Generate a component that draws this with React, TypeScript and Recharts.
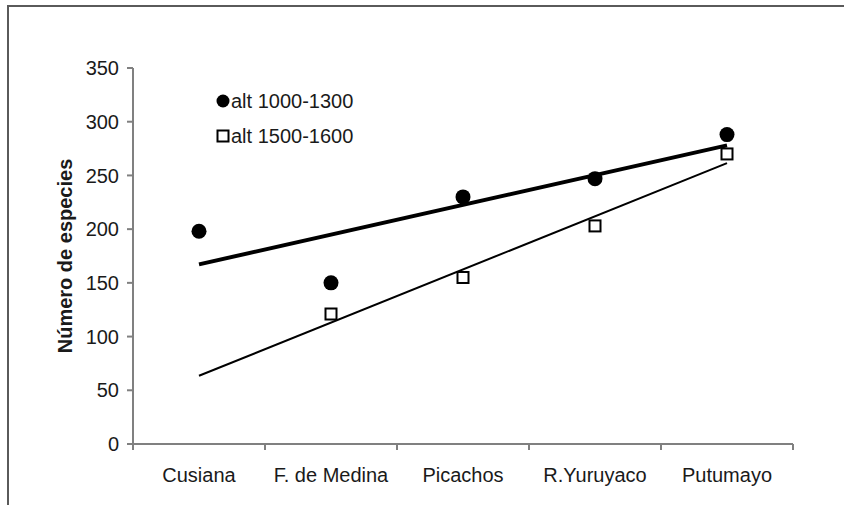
import React from 'react';
import { ComposedChart, Line, Scatter, XAxis, YAxis, Legend } from 'recharts';

// Species counts per site, two altitude bands
const sites = ['Cusiana', 'F. de Medina', 'Picachos', 'R.Yuruyaco', 'Putumayo'];
const alt1000to1300: (number | null)[] = [198, 150, 230, 247, 288];
const alt1500to1600: (number | null)[] = [null, 121, 155, 203, 270];
const seriesNames = ['alt 1000-1300', 'alt 1500-1600'];
const yTicks = [0, 50, 100, 150, 200, 250, 300, 350];
const yTitle = 'Número de especies';

const FONT = '"Liberation Sans", Arial, Helvetica, sans-serif';
const TEXT = '#1a1a1a';
const AXIS = '#808080';

// Each site sits in the middle of its slot on a 0..n axis; slot edges carry the tick marks.
const slotCenter = (i: number) => i + 0.5;
const xTicks: number[] = [];
sites.forEach((_, i) => {
  xTicks.push(i, slotCenter(i));
});
xTicks.push(sites.length);

type Pt = { x: number; y: number };

const toPoints = (values: (number | null)[]): Pt[] =>
  values
    .map((v, i) => (v == null ? null : { x: slotCenter(i), y: v }))
    .filter((p): p is Pt => p !== null);

// Least-squares trend line spanning the first to the last site
const linearTrend = (values: (number | null)[]): Pt[] => {
  const pts = toPoints(values);
  const n = pts.length;
  const mx = pts.reduce((s, p) => s + p.x, 0) / n;
  const my = pts.reduce((s, p) => s + p.y, 0) / n;
  const sxy = pts.reduce((s, p) => s + (p.x - mx) * (p.y - my), 0);
  const sxx = pts.reduce((s, p) => s + (p.x - mx) * (p.x - mx), 0);
  const slope = sxy / sxx;
  const at = (x: number) => my + slope * (x - mx);
  const x0 = slotCenter(0);
  const x1 = slotCenter(sites.length - 1);
  return [
    { x: x0, y: at(x0) },
    { x: x1, y: at(x1) },
  ];
};

const lowPoints = toPoints(alt1000to1300);
const highPoints = toPoints(alt1500to1600);
const lowTrend = linearTrend(alt1000to1300);
const highTrend = linearTrend(alt1500to1600);

const Dot = (props: any) => {
  const { cx, cy } = props;
  if (cx == null || cy == null) return null;
  return <circle cx={cx} cy={cy} r={7.5} fill="#000" />;
};

const Box = (props: any) => {
  const { cx, cy } = props;
  if (cx == null || cy == null) return null;
  return (
    <rect x={cx - 5.5} y={cy - 5.5} width={11} height={11} fill="#fff" stroke="#000" strokeWidth={2} />
  );
};

// Tick marks at slot edges, site names at slot centres
const SiteTick = (props: any) => {
  const { x, y, payload } = props;
  const v = payload.value as number;
  if (Number.isInteger(v)) {
    return <line x1={x} y1={y} x2={x} y2={y + 6} stroke={AXIS} strokeWidth={2} />;
  }
  return (
    <text x={x} y={y + 38} textAnchor="middle" fontFamily={FONT} fontSize={20} fill={TEXT}>
      {sites[Math.floor(v)]}
    </text>
  );
};

const AxisTitle = (props: any) => {
  const vb = props.viewBox || { x: 73, y: 68, width: 60, height: 376 };
  const cx = vb.x - 8;
  const cy = vb.y + vb.height / 2;
  return (
    <text
      x={cx}
      y={cy}
      transform={`rotate(-90, ${cx}, ${cy})`}
      textAnchor="middle"
      dominantBaseline="central"
      fontFamily={FONT}
      fontSize={20}
      fontWeight="bold"
      fill={TEXT}
    >
      {yTitle}
    </text>
  );
};

const LegendBox = (props: any) => {
  const items = (props.payload || []).filter((e: any) => e.type !== 'none');
  return (
    <div style={{ fontFamily: FONT, fontSize: 20, color: TEXT }}>
      {items.map((e: any) => (
        <div key={e.value} style={{ display: 'flex', alignItems: 'center', height: 35 }}>
          <svg width={14} height={14} style={{ display: 'block' }}>
            {e.type === 'circle' ? (
              <circle cx={7} cy={7} r={6.5} fill="#000" />
            ) : (
              <rect x={1.5} y={1.5} width={11} height={11} fill="#fff" stroke="#000" strokeWidth={2} />
            )}
          </svg>
          <span style={{ marginLeft: 1, lineHeight: '22px', whiteSpace: 'nowrap' }}>{e.value}</span>
        </div>
      ))}
    </div>
  );
};

export default function App() {
  return (
    <div style={{ position: 'absolute', left: 0, top: 0, width: 844, height: 505, background: '#fff' }}>
      <div
        style={{
          position: 'absolute',
          left: 7,
          top: 5,
          right: 0,
          bottom: 0,
          borderTop: '2px solid #5a5a5a',
          borderLeft: '2px solid #5a5a5a',
        }}
      />
      <ComposedChart
        width={844}
        height={505}
        margin={{ top: 68, right: 51, bottom: 0, left: 73 }}
        style={{ position: 'absolute', left: 0, top: 0 }}
      >
        <XAxis
          type="number"
          dataKey="x"
          domain={[0, sites.length]}
          ticks={xTicks}
          interval={0}
          allowDataOverflow
          height={61}
          tickSize={0}
          tickMargin={0}
          tickLine={false}
          axisLine={{ stroke: AXIS, strokeWidth: 2 }}
          tick={<SiteTick />}
        />
        <YAxis
          type="number"
          domain={[0, 350]}
          ticks={yTicks}
          interval={0}
          width={60}
          tickSize={6}
          tickMargin={8}
          axisLine={{ stroke: AXIS, strokeWidth: 2 }}
          tickLine={{ stroke: AXIS, strokeWidth: 2 }}
          tick={{ fontFamily: FONT, fontSize: 20, fill: TEXT }}
          label={<AxisTitle />}
        />
        <Legend
          layout="vertical"
          verticalAlign="middle"
          align="center"
          content={<LegendBox />}
          wrapperStyle={{ position: 'absolute', left: 216, top: 83, width: 'auto', height: 'auto' }}
        />
        <Line
          data={lowTrend}
          dataKey="y"
          stroke="#000"
          strokeWidth={4}
          dot={false}
          activeDot={false}
          legendType="none"
          isAnimationActive={false}
        />
        <Line
          data={highTrend}
          dataKey="y"
          stroke="#000"
          strokeWidth={2}
          dot={false}
          activeDot={false}
          legendType="none"
          isAnimationActive={false}
        />
        <Scatter
          name={seriesNames[0]}
          data={lowPoints}
          dataKey="y"
          legendType="circle"
          shape={<Dot />}
          isAnimationActive={false}
        />
        <Scatter
          name={seriesNames[1]}
          data={highPoints}
          dataKey="y"
          legendType="square"
          shape={<Box />}
          isAnimationActive={false}
        />
      </ComposedChart>
    </div>
  );
}
